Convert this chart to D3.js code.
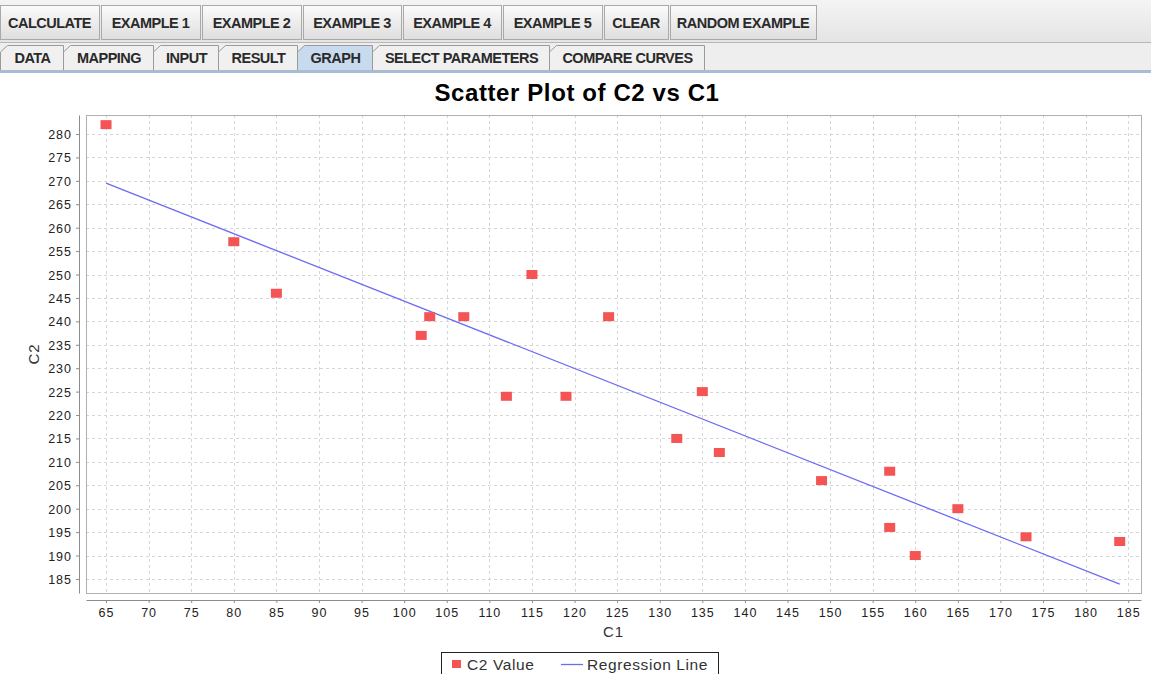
<!DOCTYPE html>
<html>
<head>
<meta charset="utf-8">
<script src="https://cdn.jsdelivr.net/npm/d3@7"></script>
<style>
  body { margin: 0; background: #ffffff; font-family: "Liberation Sans", Arial, sans-serif; }
  svg { display: block; }
</style>
</head>
<body>
<div id="chart"></div>
<script>
// toolbar + tabs
let buttons = ["CALCULATE", "EXAMPLE 1", "EXAMPLE 2", "EXAMPLE 3", "EXAMPLE 4", "EXAMPLE 5", "CLEAR", "RANDOM EXAMPLE"];
let buttonEdges = [0, 101, 202, 303, 403, 503, 604, 670, 818];
let tabs = ["DATA", "MAPPING", "INPUT", "RESULT", "GRAPH", "SELECT PARAMETERS", "COMPARE CURVES"];
let tabEdges = [0, 63, 153, 218, 297, 372, 549, 704];
let selectedTab = "GRAPH";

// chart data
let c1 = [65, 80, 85, 102, 103, 107, 112, 115, 119, 124, 132, 135, 137, 149, 157, 157, 160, 165, 173, 184];
let c2 = [282, 257, 246, 237, 241, 241, 224, 250, 224, 241, 215, 225, 212, 206, 208, 196, 190, 200, 194, 193];
let regC1 = [65, 184];
let regC2 = [269.5, 183.9];
let xTicks = d3.range(65, 186, 5);
let yTicks = d3.range(185, 281, 5);

function drawChart() {
    let win_width = 1151, win_height = 674;

    let svg = d3.select("#chart")
        .append("svg")
        .attr("width", win_width)
        .attr("height", win_height);

    let defs = svg.append("defs");
    let grad = defs.append("linearGradient").attr("id", "btn").attr("x1", 0).attr("y1", 0).attr("x2", 0).attr("y2", 1);
    grad.append("stop").attr("offset", "0%").attr("stop-color", "#fbfbfb");
    grad.append("stop").attr("offset", "100%").attr("stop-color", "#dedede");
    let bar = defs.append("linearGradient").attr("id", "bar").attr("x1", 0).attr("y1", 0).attr("x2", 0).attr("y2", 1);
    bar.append("stop").attr("offset", "0%").attr("stop-color", "#f4f4f4");
    bar.append("stop").attr("offset", "100%").attr("stop-color", "#e4e4e4");

    // toolbar
    svg.append("rect").attr("x", 0).attr("y", 0).attr("width", win_width).attr("height", 43).attr("fill", "url(#bar)");
    svg.append("line").attr("x1", 0).attr("x2", win_width).attr("y1", 42.5).attr("y2", 42.5).attr("stroke", "#b8b8b8");
    let btn = svg.append("g").selectAll("g")
        .data(buttons)
        .join("g");
    btn.append("rect")
        .attr("x", (d, i) => buttonEdges[i] + 0.5)
        .attr("y", 5.5)
        .attr("width", (d, i) => buttonEdges[i + 1] - buttonEdges[i] - 2)
        .attr("height", 34)
        .attr("fill", "url(#btn)")
        .attr("stroke", "#a9a9a9");
    btn.append("text")
        .attr("x", (d, i) => (buttonEdges[i] + buttonEdges[i + 1]) / 2 - 1)
        .attr("y", 28)
        .attr("text-anchor", "middle")
        .attr("font-size", 14.5)
        .attr("font-weight", "bold")
        .attr("letter-spacing", -0.5)
        .attr("fill", "#2a2a2a")
        .text(d => d);

    // tabs
    svg.append("rect").attr("x", 0).attr("y", 43).attr("width", win_width).attr("height", 28).attr("fill", "#eeeeee");
    let tab = svg.append("g").selectAll("g")
        .data(tabs)
        .join("g");
    tab.append("path")
        .attr("d", (d, i) => {
            let x0 = tabEdges[i] + 0.5, x1 = tabEdges[i + 1] + 0.5;
            return "M" + x0 + ",70 L" + x0 + ",52 L" + (x0 + 7) + ",45.5 L" + x1 + ",45.5 L" + x1 + ",70";
        })
        .attr("fill", d => d === selectedTab ? "#c8daee" : "#f0f0f0")
        .attr("stroke", "#9a9a9a");
    tab.append("text")
        .attr("x", (d, i) => (tabEdges[i] + tabEdges[i + 1]) / 2 + 1)
        .attr("y", 63)
        .attr("text-anchor", "middle")
        .attr("font-size", 14.5)
        .attr("font-weight", "bold")
        .attr("letter-spacing", -0.5)
        .attr("fill", "#2a2a2a")
        .text(d => d);
    svg.append("rect").attr("x", 0).attr("y", 70).attr("width", win_width).attr("height", 3).attr("fill", "#a9bcd6");

    // title
    svg.append("text")
        .attr("x", 577)
        .attr("y", 101)
        .attr("text-anchor", "middle")
        .attr("font-size", 24)
        .attr("font-weight", "bold")
        .attr("letter-spacing", 0.6)
        .attr("fill", "#000")
        .text("Scatter Plot of C2 vs C1");

    // plot area
    let plot = {left: 86, right: 1141, top: 115, bottom: 593};

    let x = d3.scaleLinear().domain([62.65, 186.5]).range([plot.left, plot.right]);
    let y = d3.scaleLinear().domain([182.0, 284.06]).range([plot.bottom, plot.top]);

    let g = svg.append("g");

    // grid
    g.append("g").selectAll("line")
        .data(xTicks)
        .join("line")
        .attr("x1", d => Math.round(x(d)) + 0.5).attr("x2", d => Math.round(x(d)) + 0.5)
        .attr("y1", plot.top).attr("y2", plot.bottom)
        .attr("stroke", "#d6d6d6")
        .attr("stroke-dasharray", "3,3");
    g.append("g").selectAll("line")
        .data(yTicks)
        .join("line")
        .attr("y1", d => Math.round(y(d)) + 0.5).attr("y2", d => Math.round(y(d)) + 0.5)
        .attr("x1", plot.left).attr("x2", plot.right)
        .attr("stroke", "#d6d6d6")
        .attr("stroke-dasharray", "3,3");

    g.append("rect")
        .attr("x", plot.left + 0.5).attr("y", plot.top + 0.5)
        .attr("width", plot.right - plot.left).attr("height", plot.bottom - plot.top)
        .attr("fill", "none")
        .attr("stroke", "#b0b0b0");

    // axes, offset from the plot
    let xAxis = g.append("g")
        .attr("transform", "translate(0," + (plot.bottom + 7) + ")")
        .call(d3.axisBottom(x).tickValues(xTicks).tickSize(3).tickSizeOuter(0).tickPadding(5));
    let yAxis = g.append("g")
        .attr("transform", "translate(" + (plot.left - 7) + ",0)")
        .call(d3.axisLeft(y).tickValues(yTicks).tickSize(3).tickSizeOuter(0).tickPadding(4));
    [xAxis, yAxis].forEach(a => {
        a.select(".domain").attr("stroke", "#8c8c8c");
        a.selectAll(".tick line").attr("stroke", "#8c8c8c");
        a.selectAll(".tick text")
            .attr("font-family", "'Liberation Sans', Arial, sans-serif")
            .attr("font-size", 12.5)
            .attr("letter-spacing", 1)
            .attr("fill", "#222");
    });
    yAxis.selectAll(".tick text").attr("dy", "0.36em");

    g.append("text")
        .attr("x", (plot.left + plot.right) / 2)
        .attr("y", 637)
        .attr("text-anchor", "middle")
        .attr("font-size", 15)
        .attr("letter-spacing", 1)
        .attr("fill", "#333")
        .text("C1");
    g.append("text")
        .attr("transform", "translate(39," + ((plot.top + plot.bottom) / 2) + ") rotate(-90)")
        .attr("text-anchor", "middle")
        .attr("font-size", 15)
        .attr("letter-spacing", 1)
        .attr("fill", "#333")
        .text("C2");

    // regression line
    let reg = regC1.map((d, i) => [d, regC2[i]]);
    g.append("path")
        .datum(reg)
        .attr("fill", "none")
        .attr("stroke", "#6b6bf5")
        .attr("stroke-width", 1.3)
        .attr("d", d3.line().x(d => x(d[0])).y(d => y(d[1])));

    // points
    let pts = c1.map((d, i) => ({c1: d, c2: c2[i]}));
    g.append("g").selectAll("rect")
        .data(pts)
        .join("rect")
        .attr("x", d => x(d.c1) - 5.5)
        .attr("y", d => y(d.c2) - 4.5)
        .attr("width", 11)
        .attr("height", 9)
        .attr("fill", "#f45454");

    // legend
    let lg = svg.append("g");
    lg.append("rect")
        .attr("x", 441.5).attr("y", 652.5)
        .attr("width", 277).attr("height", 28)
        .attr("fill", "#fff")
        .attr("stroke", "#222");
    lg.append("rect").attr("x", 452).attr("y", 660).attr("width", 9).attr("height", 8).attr("fill", "#f45454");
    lg.append("text").attr("x", 467).attr("y", 670).attr("font-size", 15.5).attr("letter-spacing", 0.6).attr("fill", "#333").text("C2 Value");
    lg.append("line").attr("x1", 561).attr("x2", 583).attr("y1", 664.5).attr("y2", 664.5).attr("stroke", "#6b6bf5").attr("stroke-width", 1.3);
    lg.append("text").attr("x", 587).attr("y", 670).attr("font-size", 15.5).attr("letter-spacing", 0.6).attr("fill", "#333").text("Regression Line");
}

drawChart();
</script>
</body>
</html>
